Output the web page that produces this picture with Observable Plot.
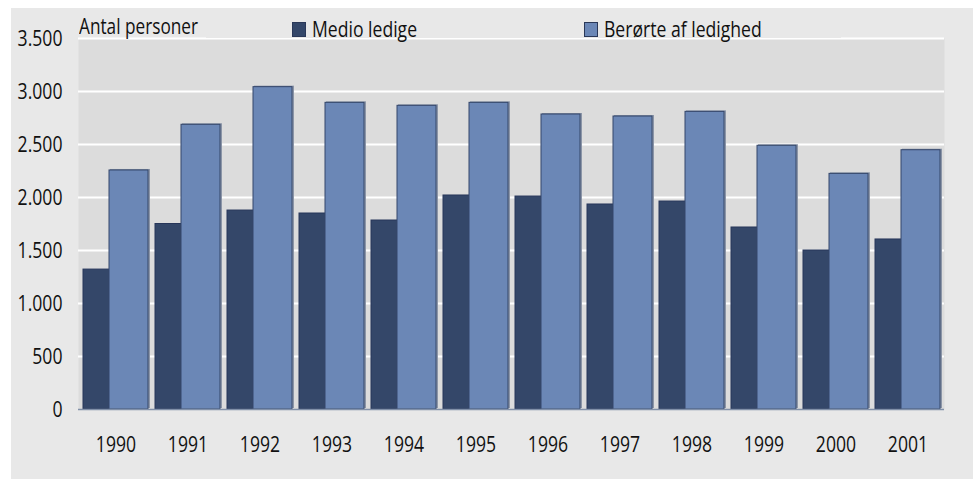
<!DOCTYPE html>
<html><head><meta charset="utf-8">
<script src="https://cdn.jsdelivr.net/npm/d3@7"></script>
<script src="https://cdn.jsdelivr.net/npm/@observablehq/plot@0.6"></script>
<style>
html,body{margin:0;padding:0;background:#fff;}
#wrap{position:relative;width:976px;height:479px;overflow:hidden;font-family:"Open Sans",sans-serif;color:#111;}
#panel{position:absolute;left:11px;top:8px;width:962px;height:471px;background:#e8e8e8;}
#panel svg{position:absolute;left:0;top:0;}
#ytitle{position:absolute;left:68px;top:8px;font-size:21px;line-height:20px;white-space:nowrap;transform:scaleX(0.82);transform-origin:0 50%;}
#legend{position:absolute;left:195px;top:0px;width:635px;height:30px;background:#e8e8e8;}
.sw{position:absolute;top:14px;width:12px;height:13px;border:1px solid #2a3858;}
.lt{position:absolute;top:9px;font-size:22px;line-height:22px;white-space:nowrap;transform:scaleX(0.8);transform-origin:0 50%;}
</style>
</head><body>
<div id="wrap"><div id="panel"></div></div>
<script>
const years = ["1990","1991","1992","1993","1994","1995","1996","1997","1998","1999","2000","2001"];
const medioLedige = [1320,1750,1877,1849,1783,2019,2009,1934,1962,1717,1500,1604];
const beroerte = [2255,2686,3041,2893,2865,2893,2783,2764,2808,2488,2223,2446];
const yTicks = [0,500,1000,1500,2000,2500,3000,3500];
const seriesNames = ["Medio ledige","Berørte af ledighed"];
const seriesColors = ["#344769","#6b87b6"];

const data = years.map((y,i)=>({year:y, medio:medioLedige[i], ber:beroerte[i]}));
const loc = d3.formatLocale({decimal:",", thousands:".", grouping:[3], currency:["",""]});
const fmt = loc.format(",d");

const chart = Plot.plot({
  width:962, height:471,
  marginLeft:67, marginRight:29, marginTop:30, marginBottom:70,
  style:{background:"transparent", fontFamily:'"Open Sans",sans-serif', fontSize:"22px", color:"#111"},
  x:{domain:years, paddingInner:0.1, paddingOuter:0.05, label:null},
  y:{domain:[0,3500], label:null},
  marks:[
    Plot.frame({fill:"#dcdcdc", stroke:null}),
    Plot.gridY(yTicks.filter(d=>d>0), {stroke:"#fff", strokeOpacity:1, strokeWidth:2}),
    Plot.barY(data, {x:"year", y:"medio", fill:seriesColors[0], stroke:"#27365a", strokeWidth:1, insetRight:38}),
    Plot.barY(data, {x:"year", y:"ber", fill:"#8c96a8", insetLeft:27, insetRight:-2, dy:-1}),
    Plot.barY(data, {x:"year", y:"ber", fill:seriesColors[1], stroke:"#34466a", strokeWidth:1, insetLeft:26}),
    Plot.ruleY([0], {stroke:"#8190a8", strokeWidth:1.5}),
    Plot.axisY({ticks:yTicks, tickSize:0, tickPadding:16, tickFormat:fmt, label:null}),
    Plot.axisX({tickSize:0, tickPadding:27, label:null})
  ]
});
const panel = document.getElementById("panel");
panel.appendChild(chart);

// condense axis text (narrow font look)
chart.querySelectorAll("text").forEach(el=>{
  const len = el.getComputedTextLength();
  if (len > 0) {
    el.setAttribute("textLength", (len*0.8).toFixed(2));
    el.setAttribute("lengthAdjust", "spacingAndGlyphs");
  }
});

const t = document.createElement("div");
t.id = "ytitle"; t.textContent = "Antal personer";
panel.appendChild(t);

const lg = document.createElement("div");
lg.id = "legend";
const lefts = [86, 378];
seriesNames.forEach((n,i)=>{
  const sw = document.createElement("div");
  sw.className = "sw"; sw.style.left = lefts[i]+"px"; sw.style.background = seriesColors[i];
  lg.appendChild(sw);
  const tx = document.createElement("div");
  tx.className = "lt"; tx.style.left = (lefts[i]+20)+"px"; tx.textContent = n;
  lg.appendChild(tx);
});
panel.appendChild(lg);
</script>
</body></html>
